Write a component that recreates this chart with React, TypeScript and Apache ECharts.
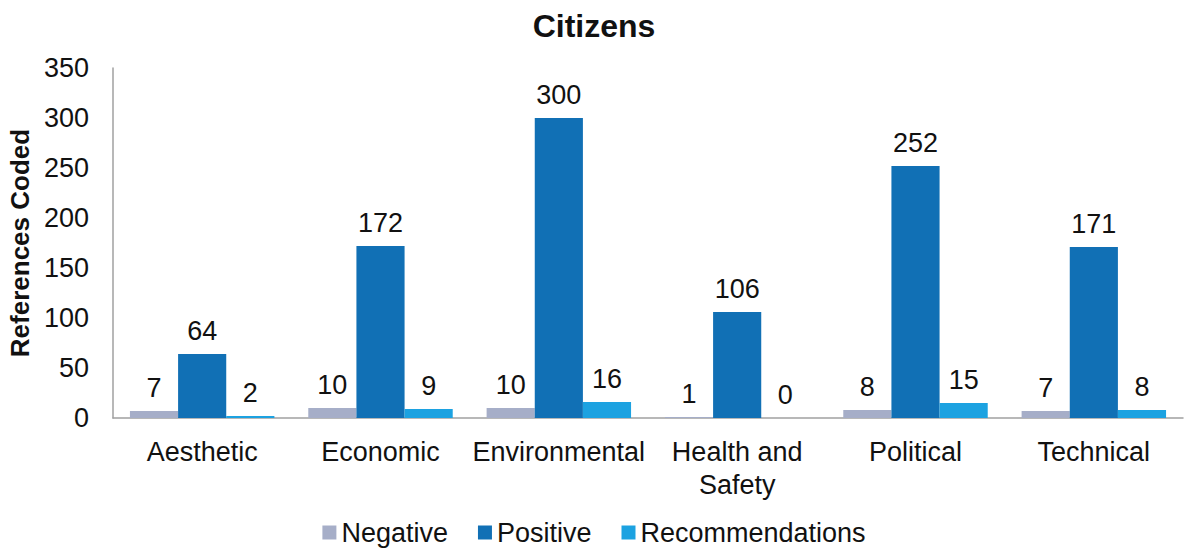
import React, { useEffect, useRef } from "react";
import * as echarts from "echarts";

const categories = ["Aesthetic", "Economic", "Environmental", "Health and\nSafety", "Political", "Technical"];
const negative = [7, 10, 10, 1, 8, 7];
const positive = [64, 172, 300, 106, 252, 171];
const recommendations = [2, 9, 16, 0, 15, 8];
const yTicks = { min: 0, max: 350, interval: 50 };

export default function App() {
  const ref = useRef<HTMLDivElement>(null);
  useEffect(() => {
    if (!ref.current) return;
    const chart = echarts.init(ref.current, null, { renderer: "svg" });
    const font = "Liberation Sans, Arial, sans-serif";
    const label = {
      show: true,
      position: "top",
      distance: 10,
      fontSize: 27,
      color: "#111",
      fontFamily: font,
    };
    chart.setOption({
      animation: false,
      textStyle: { fontFamily: font },
      title: {
        text: "Citizens",
        left: "center",
        top: 5,
        textStyle: { fontSize: 32, fontWeight: "bold", color: "#111", fontFamily: font },
      },
      legend: {
        bottom: 2,
        left: "center",
        itemWidth: 14,
        itemHeight: 14,
        itemGap: 30,
        icon: "rect",
        textStyle: { fontSize: 27, color: "#111", fontFamily: font },
        data: ["Negative", "Positive", "Recommendations"],
      },
      grid: { left: 113, right: 5, top: 68, bottom: 135, containLabel: false, outerBoundsMode: "none" },
      xAxis: {
        type: "category",
        data: categories,
        axisLine: { lineStyle: { color: "#a0a0a0", width: 1.5 } },
        axisTick: { show: false },
        axisLabel: { interval: 0, fontSize: 27, color: "#111", fontFamily: font, margin: 17, lineHeight: 33 },
      },
      yAxis: {
        type: "value",
        min: yTicks.min,
        max: yTicks.max,
        interval: yTicks.interval,
        name: "References Coded",
        nameLocation: "middle",
        nameGap: 80,
        nameRotate: 90,
        nameTextStyle: { fontSize: 26, fontWeight: "bold", color: "#111", fontFamily: font },
        axisLine: { show: true, lineStyle: { color: "#a0a0a0", width: 1.5 } },
        axisTick: { show: false },
        splitLine: { show: false },
        axisLabel: { fontSize: 27, color: "#111", fontFamily: font, margin: 24 },
      },
      series: [
        { name: "Negative", type: "bar", data: negative, itemStyle: { color: "#A6AEC8" }, label, barGap: "0%", barCategoryGap: "19%" },
        { name: "Positive", type: "bar", data: positive, itemStyle: { color: "#1170B5" }, label, barGap: "0%", barCategoryGap: "19%" },
        { name: "Recommendations", type: "bar", data: recommendations, itemStyle: { color: "#1CA2E1" }, label, barGap: "0%", barCategoryGap: "19%" },
      ],
    });
    return () => chart.dispose();
  }, []);
  return (
    <div
      ref={ref}
      style={{ position: "fixed", left: 0, top: 0, width: 1188, height: 553, background: "#fff" }}
    />
  );
}
